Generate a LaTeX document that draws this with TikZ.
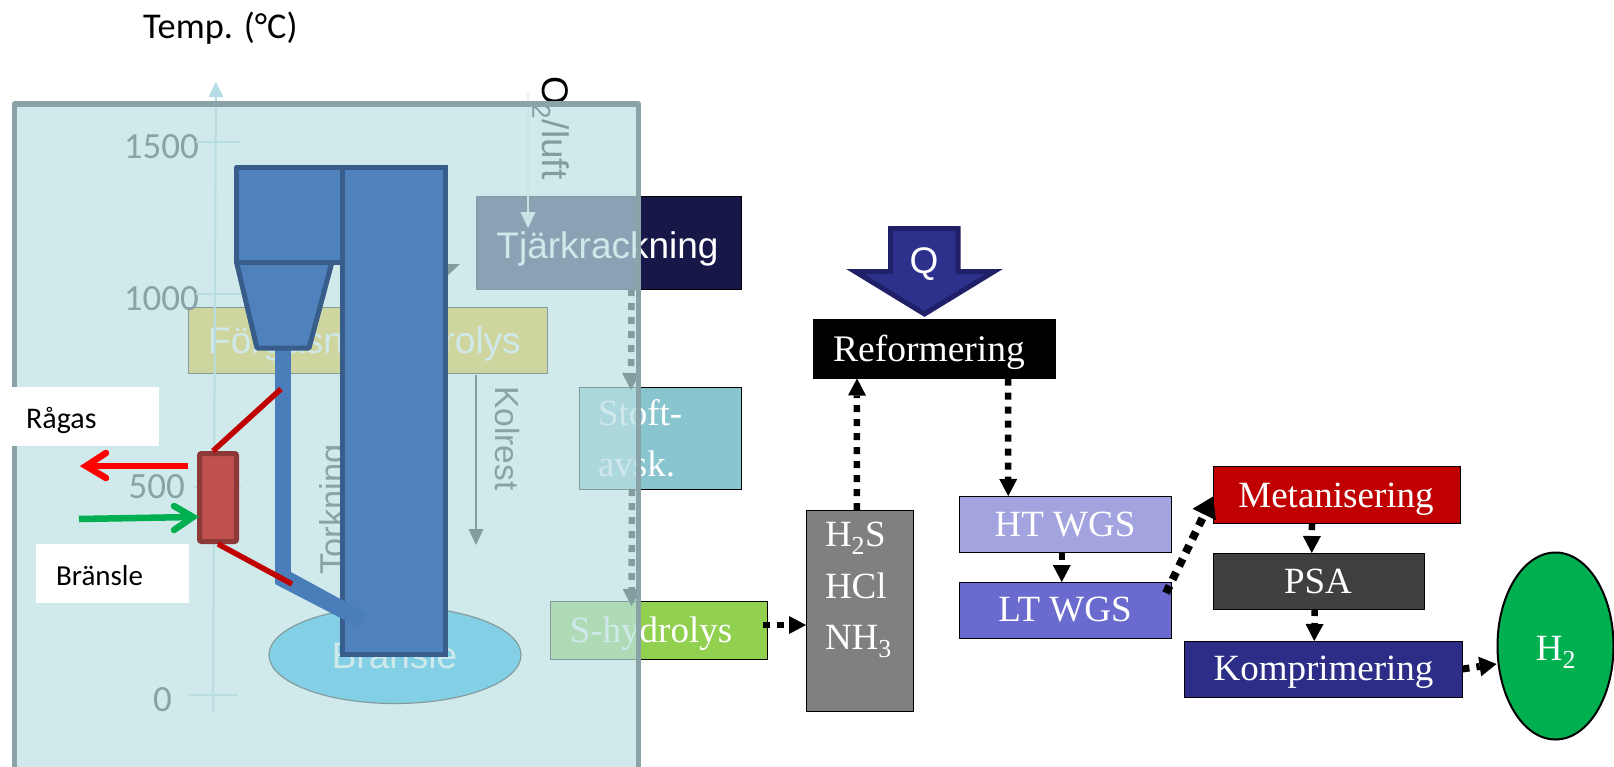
\documentclass[tikz,border=0pt]{standalone}
\usepackage{fontspec}
\setmainfont{Carlito}
\newfontfamily\arialf{Liberation Sans}
\newfontfamily\timesf{Liberation Serif}
\usetikzlibrary{arrows.meta,shapes.geometric}
\definecolor{navybox}{RGB}{23,23,72}
\definecolor{stoftc}{RGB}{137,197,206}
\definecolor{hydroc}{RGB}{146,208,80}
\definecolor{forgc}{RGB}{255,192,0}
\definecolor{brelc}{RGB}{0,176,240}
\definecolor{panelf}{RGB}{188,223,226}
\definecolor{panelb}{RGB}{138,163,168}
\definecolor{axisc}{RGB}{180,220,228}
\definecolor{palec}{RGB}{228,242,244}
\definecolor{towerf}{RGB}{79,129,189}
\definecolor{towerb}{RGB}{56,93,138}
\definecolor{stemf}{RGB}{74,126,187}
\definecolor{redf}{RGB}{192,80,77}
\definecolor{redb}{RGB}{140,56,54}
\definecolor{darkred}{RGB}{192,0,0}
\definecolor{greenc}{RGB}{0,176,80}
\definecolor{psac}{RGB}{64,64,64}
\definecolor{qf}{RGB}{46,49,140}
\definecolor{qb}{RGB}{31,32,104}
\definecolor{htc}{RGB}{163,163,223}
\definecolor{ltc}{RGB}{107,107,207}
\definecolor{kompc}{RGB}{45,45,135}
\newcommand\fs[1]{\fontsize{#1}{#1}\selectfont}
\newcommand\pbox[7]{% name x1 y1 x2 y2 fill linecolor
  \pgfmathsetmacro\bw{#4-#2}\pgfmathsetmacro\bh{#5-#3}
  \pgfmathsetmacro\bx{(#2+#4)/2}\pgfmathsetmacro\by{(#3+#5)/2}
  \node[procbox,fill=#6,draw=#7,minimum width=\bw pt,minimum height=\bh pt] (#1) at (\bx,\by) {};}
\tikzset{
  procbox/.style={rectangle,inner sep=0pt,outer sep=0pt,line width=1pt},
  lab/.style={inner sep=0pt,outer sep=0pt,anchor=base,text=white},
  labl/.style={inner sep=0pt,outer sep=0pt,anchor=base west,text=white},
  axline/.style={draw=axisc,line width=2pt},
  flow/.style={line width=6.5pt,dash pattern=on 7pt off 7pt,-{Triangle[length=17pt,width=18pt,line width=0pt]}},
  flowbig/.style={line width=8pt,dash pattern=on 8pt off 7pt,-{Triangle[length=20pt,width=26pt,line width=0pt]}},
  flowmid/.style={line width=7pt,dash pattern=on 7pt off 7pt,-{Triangle[length=17pt,width=20pt,line width=0pt]}},
  thinarrow/.style={line width=1.6pt,-{Triangle[length=16pt,width=15pt,line width=0pt]}},
}
\begin{document}
\begin{tikzpicture}[x=1pt,y=-1pt]
\useasboundingbox (0,0) rectangle (1614,766);
% ---------- process boxes
\pbox{tjark}{476}{196}{741}{289}{navybox}{black}
\pbox{stoft}{579}{387}{741}{489}{stoftc}{black}
\pbox{shyd}{550}{601}{767}{659}{hydroc}{black}
\pbox{forg}{188}{307}{547}{373}{forgc}{black}
\node[ellipse,draw=black,line width=1.2pt,fill=brelc,minimum width=252pt,minimum height=97pt,inner sep=0pt] (brel) at (395,655) {};
% ---------- texts under the panel
\node[lab] (tjarkT) at (607.5,258) {\arialf\fs{37}Tjärkrackning};
\node[labl] (stoftA) at (598,425) {\timesf\fs{37}Stoft-};
\node[labl] (stoftB) at (598,476) {\timesf\fs{37}avsk.};
\node[lab] (shydT) at (651,642) {\timesf\fs{37}S-hydrolys};
\node[lab] (forgT) at (364.5,353) {\arialf\fs{37}Förgasning/pyrolys};
\node[lab] (brelT) at (394.5,668) {\arialf\fs{37}Bränsle};
\node[inner sep=0pt,anchor=base east,text=black!92] (t1500) at (199,158) {\fs{37}1500};
\node[inner sep=0pt,anchor=base east,text=black!92] (t1000) at (199,310) {\fs{37}1000};
\node[inner sep=0pt,anchor=base east,text=black!92] (t500) at (185,498) {\fs{37}500};
\node[inner sep=0pt,anchor=base east,text=black!92] (t0) at (172,711) {\fs{37}0};
\node[inner sep=0pt,anchor=base west,rotate=-90,text=black] (o2T) at (542,76) {\arialf\fs{37}O\textsubscript{2}/luft};
\node[inner sep=0pt,anchor=base west,rotate=-90,text=black!92] (kolT) at (495,386) {\arialf\fs{33.5}Kolrest};
\node[inner sep=0pt,anchor=base west,rotate=90,text=black!92] (torkT) at (344,575) {\arialf\fs{34.5}Torkning};
% ---------- axis and arrows under the panel
\coordinate (axTop) at (216,82);
\coordinate (axBot) at (213,712);
\draw[axline,-{Triangle[length=15pt,width=15pt,line width=0pt]}] (axBot) -- (axTop);
\coordinate (k1a) at (196,142); \coordinate (k1b) at (241,142);
\coordinate (k2a) at (196,294); \coordinate (k2b) at (241,294);
\coordinate (k3a) at (193,487); \coordinate (k3b) at (241,487);
\coordinate (k4a) at (188,695); \coordinate (k4b) at (238,695);
\draw[axline] (k1a) -- (k1b);
\draw[axline] (k2a) -- (k2b);
\draw[axline] (k3a) -- (k3b);
\draw[axline] (k4a) -- (k4b);
\coordinate (o2s) at (528,93);
\coordinate (o2e) at (528,228);
\draw[thinarrow,draw=palec,fill=palec] (o2s) -- (o2e);
\coordinate (kolS) at (476,375); \coordinate (kolE) at (476,545);
\draw[thinarrow,black] (kolS) -- (kolE);
\coordinate (headA) at (460,264); \coordinate (headB) at (440,264); \coordinate (headC) at (446,277);
\fill[black] (headA) -- (headB) -- (headC) -- cycle;
\draw[flow,black] ([xshift=23pt]tjark.south) -- ([xshift=-29pt,yshift=-3pt]stoft.north);
\draw[flow,black] ([xshift=-28pt]stoft.south) -- ([xshift=-27pt,yshift=-5pt]shyd.north);
% ---------- translucent panel
\node[rectangle,inner sep=0pt,outer sep=0pt,fill=panelf,fill opacity=.7,minimum width=624pt,minimum height=670pt] (panel) at (326.5,439) {};
\draw[panelb,line width=5.5pt,line join=round] (14.5,775) -- (14.5,104) -- (638.5,104) -- (638.5,775);
% ---------- gasifier on top
\fill[stemf] (275,346) rectangle (291,584);
\draw[towerb,line width=5pt,fill=towerf,line join=round] (236.5,262) -- (332,262) -- (309,348) -- (257,348) -- cycle;
\draw[towerb,line width=5pt,fill=towerf,line join=round] (236.5,167.5) rectangle (342,262);
\node[rectangle,draw=towerb,fill=towerf,line width=5pt,inner sep=0pt,minimum width=103pt,minimum height=487pt] (tower) at (393.5,411) {};
\fill[stemf] (291,572) -- (366,613) -- (358,627) -- (275,584) -- (275,572) -- cycle;
\node[rectangle,rounded corners=2pt,draw=redb,fill=redf,line width=5pt,inner sep=0pt,minimum width=37pt,minimum height=88pt] (rbox) at (218,497.5) {};
\coordinate (ru) at (281,389); \coordinate (rd) at (292,584);
\draw[darkred,line width=5.5pt] ([xshift=-5pt]rbox.north) -- (ru);
\draw[darkred,line width=5.5pt] ([xshift=0pt]rbox.south) -- (rd);
% red and green arrows
\coordinate (rgTip) at (86,466); \coordinate (rgA) at (106,453); \coordinate (rgB) at (106,478); \coordinate (rgS) at (188,466);
\draw[red,line width=6.5pt] (rgS) -- (rgTip);
\draw[red,line width=6.5pt,line cap=round,line join=miter] (rgA) -- (rgTip) -- (rgB);
\coordinate (grS) at (79,519); \coordinate (grTip) at (193,517); \coordinate (grA) at (174,506); \coordinate (grB) at (174,530);
\draw[greenc,line width=6.5pt] (grS) -- (grTip);
\draw[greenc,line width=6.5pt,line cap=round,line join=miter] (grA) -- (grTip) -- (grB);
% white label boxes
\pbox{ragasB}{12}{387}{158}{445}{white}{white}
\node[inner sep=0pt,anchor=base west] (ragasT) at (26,428) {\fs{30}Rågas};
\pbox{branB}{36}{544}{188}{602}{white}{white}
\node[inner sep=0pt,anchor=base west] (branT) at (56,585) {\fs{29}Bränsle};
\node[inner sep=0pt,anchor=base west] (tempT) at (143,38) {\fs{36.3}Temp. (°C)};
% ---------- Q arrow
\draw[qb,fill=qf,line width=5pt,line join=miter] (890.5,228.5) -- (958,228.5) -- (958,271.5) -- (994,271.5) -- (924.5,314) -- (855,271.5) -- (890.5,271.5) -- cycle;
\node[lab] (qT) at (924,273) {\arialf\fs{37}Q};
% ---------- right hand process
\pbox{reform}{813.5}{319}{1055.5}{378.5}{black}{black}
\node[lab] (reformT) at (929,361) {\timesf\fs{37.5}Reformering};
\pbox{gas}{806}{510}{913.5}{711}{gray}{black}
\node[labl] (gasA) at (825,546) {\timesf\fs{37}H\textsubscript{2}S};
\node[labl] (gasB) at (825,598) {\timesf\fs{37}HCl};
\node[labl] (gasC) at (825,649) {\timesf\fs{37}NH\textsubscript{3}};
\pbox{ht}{959.5}{496}{1171}{552.5}{htc}{black}
\node[lab] (htT) at (1065,536) {\timesf\fs{37}HT WGS};
\pbox{lt}{959.5}{582}{1171}{638}{ltc}{black}
\node[lab] (ltT) at (1065,621) {\timesf\fs{37}LT WGS};
\pbox{met}{1213}{466.5}{1460}{523}{darkred}{black}
\node[lab] (metT) at (1336,507) {\timesf\fs{37}Metanisering};
\pbox{psa}{1213}{553}{1424.5}{609}{psac}{black}
\node[lab] (psaT) at (1318,593) {\timesf\fs{37}PSA};
\pbox{komp}{1184}{641}{1462.5}{697}{kompc}{black}
\node[lab] (kompT) at (1323.5,680) {\timesf\fs{37}Komprimering};
\node[ellipse,draw=black,line width=2pt,fill=greenc,inner sep=0pt,minimum width=116pt,minimum height=187pt] (h2) at (1555.5,646) {};
\node[lab] (h2T) at (1556,660) {\timesf\fs{37}H\textsubscript{2}};
% ---------- connectors
\coordinate (y625) at (0,625);
\coordinate (y593) at (0,593);
\coordinate (y4965) at (0,496.5);
\coordinate (y669) at (0,669);
\coordinate (y664) at (0,664);
\draw[flow] ([xshift=-4pt]shyd.east |- y625) -- (gas.west |- y625);
\draw[flow] ([xshift=-3pt]gas.north) -- ([xshift=-77.5pt]reform.south);
\draw[flow] ([xshift=73.5pt]reform.south) -- ([xshift=-57pt]ht.north);
\draw[flow] ([xshift=-3.5pt]ht.south) -- ([xshift=-3.5pt]lt.north);
\draw[flowbig] ([xshift=-5pt]lt.east |- y593) -- (met.west |- y4965);
\draw[flow] ([xshift=-24.5pt]met.south) -- ([xshift=-7pt]psa.north);
\draw[flow] ([xshift=-4pt]psa.south) -- ([xshift=-9pt]komp.north);
\draw[flowmid] (komp.east |- y669) -- (h2.west |- y664);
\end{tikzpicture}
\end{document}
